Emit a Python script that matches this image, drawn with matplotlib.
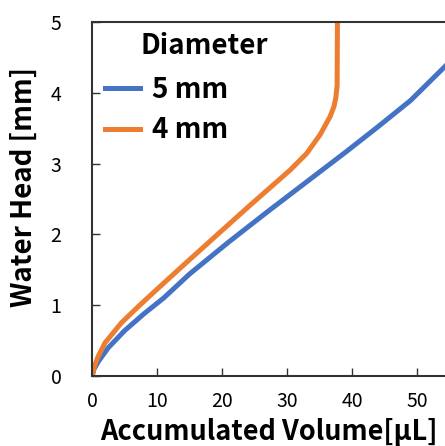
import matplotlib.pyplot as plt

plt.rcParams['font.family'] = ['Noto Sans CJK JP', 'DejaVu Sans']

# 5 mm diameter
vol_5mm = [0, 0.3, 1, 2.5, 5, 8, 11, 15, 21, 27, 33, 39, 44, 49, 54.3, 60]
head_5mm = [0, 0.10, 0.21, 0.40, 0.64, 0.88, 1.10, 1.44, 1.89, 2.32, 2.74, 3.16, 3.52, 3.89, 4.37, 4.9]

# 4 mm diameter
vol_4mm = [0, 0.3, 0.9, 2, 4.5, 7.1, 9.7, 14, 19.2, 24.3, 30.5, 33, 35.1, 36.6, 37.2, 37.5, 37.7, 37.75]
head_4mm = [0, 0.12, 0.27, 0.47, 0.75, 0.98, 1.20, 1.56, 1.99, 2.41, 2.91, 3.14, 3.41, 3.66, 3.80, 3.93, 4.10, 5.0]

fig = plt.figure(figsize=(4.45, 4.46), dpi=100)
ax = fig.add_axes([0.207, 0.157, 0.793, 0.794])

ax.plot(vol_5mm, head_5mm, color='#4472C4', lw=3.6, label='5 mm', solid_joinstyle='round')
ax.plot(vol_4mm, head_4mm, color='#ED7D31', lw=3.6, label='4 mm', solid_joinstyle='round')

ax.set_xlim(0, 54.3)
ax.set_ylim(0, 5)
ax.set_xticks([0, 10, 20, 30, 40, 50])
ax.set_yticks([0, 1, 2, 3, 4, 5])

for s in ['left', 'bottom', 'top']:
    ax.spines[s].set_color('#333333')
    ax.spines[s].set_linewidth(1.5)
ax.spines['right'].set_visible(False)

ax.tick_params(axis='both', direction='in', length=6, width=1, color='#333333', labelsize=14)
ax.tick_params(axis='y', pad=22)
ax.tick_params(axis='x', pad=11)

ax.set_xlabel('Accumulated Volume[μL]', fontsize=19.5, fontweight='bold')
ax.set_ylabel('Water Head [mm]', fontsize=20, fontweight='bold')
ax.xaxis.set_label_coords(0.5, -0.118)
ax.yaxis.set_label_coords(-0.155, 0.534)

ax.text(0.136, 0.932, 'Diameter', transform=ax.transAxes, fontsize=20,
        fontweight='bold', va='center', ha='left')
leg = ax.legend(frameon=False, loc='upper left', bbox_to_anchor=(0.037, 0.847),
                prop={'size': 20, 'weight': 'bold'}, borderpad=0, borderaxespad=0,
                handlelength=1.26, handletextpad=0.43, labelspacing=0.44)

fig.savefig('out.png', dpi=100)
